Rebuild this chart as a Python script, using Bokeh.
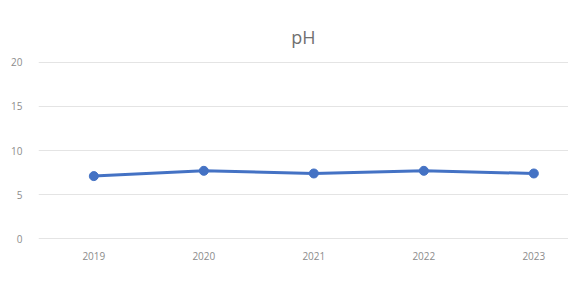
from bokeh.plotting import figure
from bokeh.models import Range1d, FixedTicker
from bokeh.embed import file_html
from bokeh.resources import INLINE

years = ["2019", "2020", "2021", "2022", "2023"]
ph = [7.1, 7.7, 7.4, 7.7, 7.4]
y_ticks = [0, 5, 10, 15, 20]
title_text = "pH"

xs = list(range(len(years)))

p = figure(width=568, height=293, output_backend="svg", toolbar_location=None,
           x_range=Range1d(-0.503, 4.315), y_range=Range1d(-0.3, 20.3),
           min_border_left=38, min_border_right=0, min_border_top=59, min_border_bottom=52)
p.outline_line_color = None
p.background_fill_color = "white"
p.border_fill_color = "white"

p.title.text = title_text
p.title.align = "center"
p.title.text_font = "Open Sans"
p.title.text_font_style = "normal"
p.title.text_font_size = "18px"
p.title.text_color = "#707070"
try:
    p.title.padding = 6
except Exception:
    pass

p.line(xs, ph, line_color="#4472C4", line_width=3)
p.scatter(xs, ph, size=9, fill_color="#4472C4", line_color="#4472C4")

p.xaxis.ticker = FixedTicker(ticks=xs)
p.xaxis.major_label_overrides = {i: y for i, y in enumerate(years)}
p.yaxis.ticker = FixedTicker(ticks=y_ticks)
for ax in (p.xaxis, p.yaxis):
    ax.axis_line_color = None
    ax.major_tick_line_color = None
    ax.minor_tick_line_color = None
    ax.major_tick_out = 0
    ax.major_tick_in = 0
    ax.minor_tick_out = 0
    ax.major_label_text_font = "Open Sans"
    ax.major_label_text_font_size = "10px"
    ax.major_label_text_color = "#8c8c8c"
p.xaxis.major_label_standoff = 10
p.yaxis.major_label_standoff = 16

p.xgrid.grid_line_color = None
p.ygrid.grid_line_color = "#e4e4e4"
p.ygrid.grid_line_width = 1

open("out.html", "w").write(file_html(p, INLINE))
